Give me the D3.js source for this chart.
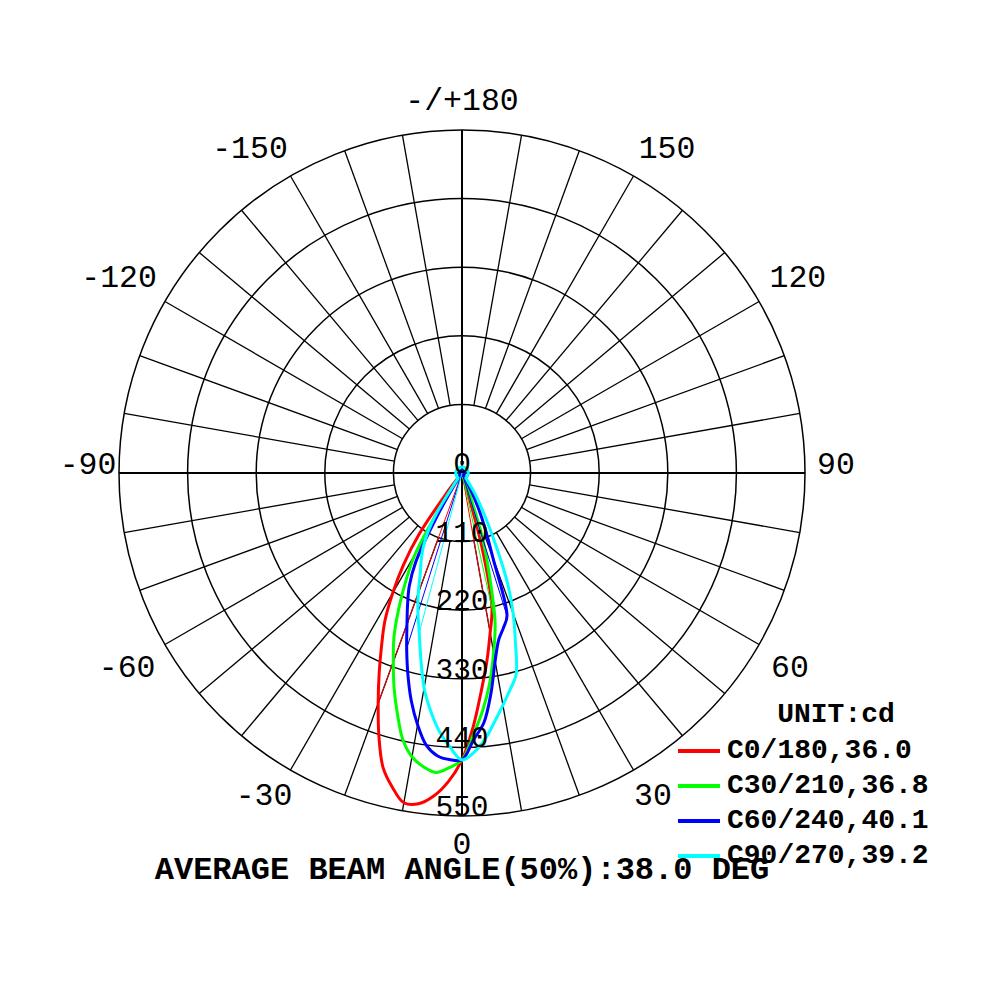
<!DOCTYPE html>
<html>
<head>
<meta charset="utf-8">
<script src="https://cdn.jsdelivr.net/npm/d3@7"></script>
<style>
body { margin: 0; background: #fff; }
text { font-family: "Liberation Mono", "DejaVu Sans Mono", monospace; }
</style>
</head>
<body>
<script>
const width = 1000
const height = 1000
const cx = 462
const cy = 473
const outerR = 343

// gamma angles in degrees, 0 = straight down
const gammas = [0, 2.5, 5, 7.5, 10, 12.5, 15, 17.5, 20, 22.5, 25, 27.5, 30, 32.5, 35, 37.5, 40, 45, 60, 90, 135, 180]

// left half planes (cd)
const c180 = [460, 495, 520, 535, 537, 516, 489, 443, 393, 347, 305, 268, 222, 175, 120, 40, 10, 5, 4, 4, 4, 4]
const c210 = [460, 473, 482, 475, 462, 438, 400, 362, 322, 285, 240, 195, 150, 60, 10, 5, 4, 4, 4, 4, 4, 4]
const c240 = [460, 460, 455, 440, 410, 375, 335, 295, 258, 228, 200, 160, 80, 20, 5, 4, 4, 4, 4, 4, 4, 4]
const c270 = [460, 440, 416, 385, 350, 305, 265, 235, 205, 175, 155, 135, 110, 70, 20, 10, 10, 10, 10, 10, 10, 10]

// right half planes (cd)
const c0 = [460, 408, 352, 305, 260, 222, 125, 10, 4, 4, 4, 4, 4, 4, 4, 4, 4, 4, 4, 4, 4, 4]
const c30 = [460, 420, 382, 340, 292, 245, 170, 110, 30, 5, 4, 4, 4, 4, 4, 4, 4, 4, 4, 4, 4, 4]
const c60 = [460, 428, 402, 356, 306, 273, 257, 240, 145, 98, 62, 30, 8, 4, 4, 4, 4, 4, 4, 4, 4, 4]
const c90 = [460, 448, 428, 402, 378, 356, 335, 285, 240, 190, 130, 85, 55, 35, 15, 10, 10, 10, 10, 10, 10, 10]

// thin chords from the centre to a point on the curve [gamma, cd], negative gamma = left side
const thinRed = [[-20, 393], [10, 260]]
const thinGreen = [[12.5, 245]]
const thinBlue = [[-17.5, 295], [17.5, 240]]
const thinCyan = [[-15, 265]]

const legendLabels = ['C0/180,36.0', 'C30/210,36.8', 'C60/240,40.1', 'C90/270,39.2']
const colors = ['#ff0000', '#00ff00', '#0000ff', '#00ffff']

const ringValues = [110, 220, 330, 440, 550]
const angleTicks = [180, 150, 120, 90, 60, 30, 0, -30, -60, -90, -120, -150]
const beamText = 'AVERAGE BEAM ANGLE(50%):38.0 DEG'

const series = [
    {left: c180, right: c0, thin: thinRed},
    {left: c210, right: c30, thin: thinGreen},
    {left: c240, right: c60, thin: thinBlue},
    {left: c270, right: c90, thin: thinCyan}
]

const r = d3.scaleLinear().domain([0, 550]).range([0, outerR])
const rad = d => d * Math.PI / 180

var svg = d3.select('body').append('svg')
    .attr('width', width)
    .attr('height', height)

svg.append('rect')
    .attr('width', width)
    .attr('height', height)
    .style('fill', '#fff')

const g = svg.append('g').attr('transform', `translate(${cx},${cy})`)

// spokes every 10 deg from the first ring outward
d3.range(0, 360, 10).filter(a => a % 90 != 0).forEach(a => {
    g.append('line')
        .attr('x1', r(110) * Math.sin(rad(a)))
        .attr('y1', r(110) * Math.cos(rad(a)))
        .attr('x2', outerR * Math.sin(rad(a)))
        .attr('y2', outerR * Math.cos(rad(a)))
        .style('stroke', 'black')
        .style('stroke-width', 1.3)
})

// main axes
g.append('line').attr('x1', -outerR).attr('x2', outerR).attr('y1', 0).attr('y2', 0)
    .style('stroke', 'black').style('stroke-width', 2)
g.append('line').attr('y1', -outerR).attr('y2', outerR).attr('x1', 0).attr('x2', 0)
    .style('stroke', 'black').style('stroke-width', 2)

// rings
g.selectAll('circle.ring')
    .data(ringValues)
    .enter().append('circle')
    .attr('class', 'ring')
    .attr('r', d => r(d))
    .style('fill', 'none')
    .style('stroke', 'black')
    .style('stroke-width', 1.5)

// angle labels (small nudges so they sit like the original)
const labelR = 374
const nudgeX = {0: 0, 30: 4, 60: 4, 90: 0, 120: 12, 150: 18, 180: 0}
const nudgeY = {0: -2, 30: 0, 60: 8, 90: -8, 120: -8, 150: 0, 180: 2}
g.selectAll('text.ang')
    .data(angleTicks)
    .enter().append('text')
    .attr('class', 'ang')
    .attr('x', d => labelR * Math.sin(rad(d)) + Math.sign(d) * nudgeX[Math.abs(d)] + (d < 0 && d != -90 ? -7 : 0))
    .attr('y', d => labelR * Math.cos(rad(d)) + nudgeY[Math.abs(d)])
    .attr('text-anchor', 'middle')
    .attr('dominant-baseline', 'central')
    .style('font-size', '31.5px')
    .text(d => d == 180 ? '-/+180' : d)

// curves
const line = d3.lineRadial()
    .angle(d => d[0])
    .radius(d => r(d[1]))
    .curve(d3.curveCatmullRom.alpha(0.5))

series.forEach((s, i) => {
    let pts = []
    for (let k = gammas.length - 1; k >= 0; k--) pts.push([Math.PI + rad(gammas[k]), s.left[k]])
    for (let k = 1; k < gammas.length; k++) pts.push([Math.PI - rad(gammas[k]), s.right[k]])

    s.thin.forEach(t => {
        g.append('line')
            .attr('x1', 0).attr('y1', 0)
            .attr('x2', r(t[1]) * Math.sin(rad(t[0])))
            .attr('y2', r(t[1]) * Math.cos(rad(t[0])))
            .style('stroke', colors[i])
            .style('stroke-width', 1)
    })

    g.append('path')
        .attr('d', line(pts))
        .style('fill', 'none')
        .style('stroke', colors[i])
        .style('stroke-width', 3)
        .style('stroke-linejoin', 'round')
})

// ring labels, drawn over the curves
g.selectAll('text.ringlab')
    .data([0].concat(ringValues))
    .enter().append('text')
    .attr('class', 'ringlab')
    .attr('x', 0)
    .attr('y', d => r(d))
    .attr('text-anchor', 'middle')
    .style('font-size', '29.5px')
    .text(d => d)

// beam angle note
svg.append('text')
    .attr('x', 462)
    .attr('y', 879)
    .attr('text-anchor', 'middle')
    .style('font-size', '32px')
    .style('font-weight', 'bold')
    .style('font-family', '"Courier New", "Liberation Mono", monospace')
    .text(beamText)

// legend
svg.append('text')
    .attr('x', 836)
    .attr('y', 722)
    .attr('text-anchor', 'middle')
    .style('font-size', '28px')
    .style('font-weight', 'bold')
    .style('font-family', '"Courier New", "Liberation Mono", monospace')
    .text('UNIT:cd')

legendLabels.forEach((lab, i) => {
    svg.append('line')
        .attr('x1', 678).attr('x2', 720)
        .attr('y1', 751 + i * 35).attr('y2', 751 + i * 35)
        .style('stroke', colors[i])
        .style('stroke-width', 4)
    svg.append('text')
        .attr('x', 727)
        .attr('y', 758 + i * 35)
        .style('font-size', '28px')
        .style('font-weight', 'bold')
        .style('font-family', '"Courier New", "Liberation Mono", monospace')
        .text(lab)
})
</script>
</body>
</html>
